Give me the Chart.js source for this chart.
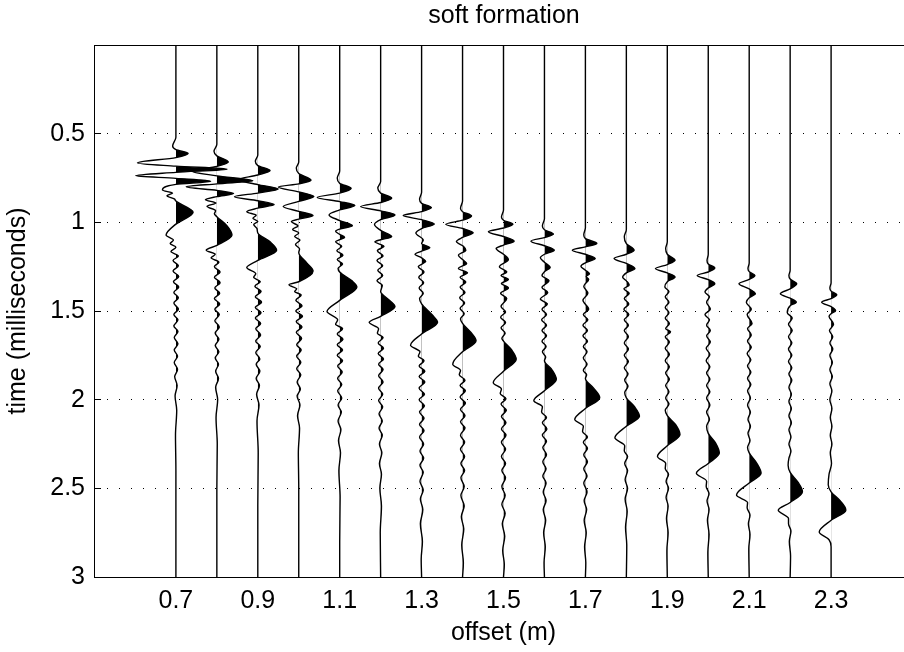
<!DOCTYPE html>
<html>
<head>
<meta charset="utf-8">
<script src="https://cdn.jsdelivr.net/npm/chart.js@4.4.1/dist/chart.umd.min.js"></script>
<style>
  html, body { margin: 0; padding: 0; background: #fff; }
  #wrap { width: 904px; height: 652px; overflow: hidden; }
  canvas { display: block; }
</style>
</head>
<body>
<div id="wrap"><canvas id="chart" width="1008" height="652"></canvas></div>
<script>
const title = 'soft formation'
const xLabel = 'offset (m)'
const yLabel = 'time (milliseconds)'

const offsets = [0.7, 0.8, 0.9, 1.0, 1.1, 1.2, 1.3, 1.4, 1.5, 1.6, 1.7, 1.8, 1.9, 2.0, 2.1, 2.2, 2.3]
const xTicks = [0.7, 0.9, 1.1, 1.3, 1.5, 1.7, 1.9, 2.1, 2.3]
const yTicks = [0.5, 1, 1.5, 2, 2.5, 3]
const gain = 0.1 // one amplitude unit = one trace spacing (m)

// [time (ms), amplitude]
const tr07 = [[0,0],[0.52,0],[0.57,-0.08],[0.59,0],[0.611,0.30],[0.635,0],[0.665,-0.94],[0.683,0],[0.700,1.25],[0.718,0],[0.737,-0.98],[0.752,0],[0.768,0.85],[0.786,0],[0.818,-0.33],[0.835,-0.08],[0.85,-0.22],[0.868,-0.04],[0.88,0],[0.943,0.42],[1.01,0],[1.072,-0.24],[1.10,-0.06],[1.12,-0.14],[1.14,0],[1.165,-0.12],[1.19,0.06],[1.215,-0.07],[1.245,0.06],[1.275,-0.07],[1.305,0.07],[1.335,-0.06],[1.365,0.07],[1.395,-0.05],[1.425,0.06],[1.455,-0.05],[1.49,0.06],[1.52,-0.05],[1.55,0.05],[1.585,-0.05],[1.615,0.05],[1.65,-0.04],[1.685,0.05],[1.72,-0.04],[1.755,0.04],[1.79,-0.04],[1.83,0.04],[1.87,-0.03],[1.92,0.03],[1.98,-0.02],[2.06,0.02],[2.2,-0.01],[2.4,0],[3,0]]
const tr08 = [[0,0],[0.56,0],[0.599,-0.07],[0.625,0],[0.66,0.28],[0.685,0],[0.712,-0.6],[0.738,0],[0.766,0.88],[0.783,0],[0.80,-0.75],[0.82,0],[0.838,0.41],[0.855,0],[0.873,-0.28],[0.891,-0.02],[0.909,-0.24],[0.935,-0.03],[0.952,-0.06],[0.968,0],[1.02,0.25],[1.072,0.37],[1.13,0],[1.157,-0.26],[1.18,-0.04],[1.20,-0.14],[1.225,0.05],[1.25,-0.06],[1.28,0.08],[1.31,-0.06],[1.34,0.08],[1.37,-0.05],[1.40,0.07],[1.43,-0.06],[1.46,0.07],[1.49,-0.05],[1.52,0.06],[1.555,-0.05],[1.59,0.06],[1.625,-0.04],[1.66,0.05],[1.695,-0.04],[1.73,0.05],[1.765,-0.04],[1.80,0.04],[1.84,-0.03],[1.88,0.04],[1.93,-0.03],[2.0,0.02],[2.1,-0.02],[2.25,0.01],[2.5,0],[3,0]]
const tr09 = [[0,0],[0.62,0],[0.656,-0.06],[0.68,0],[0.708,0.30],[0.733,0],[0.76,-0.5],[0.787,0],[0.812,0.50],[0.835,0],[0.856,-0.57],[0.878,0],[0.90,0.40],[0.92,0],[0.94,-0.27],[0.96,-0.04],[0.977,-0.12],[0.995,0],[1.012,-0.1],[1.035,-0.02],[1.06,0],[1.11,0.3],[1.157,0.46],[1.215,0],[1.255,-0.27],[1.29,-0.05],[1.31,-0.10],[1.335,0.06],[1.36,-0.07],[1.39,0.08],[1.42,-0.06],[1.45,0.09],[1.48,-0.06],[1.51,0.08],[1.54,-0.06],[1.57,0.07],[1.60,-0.05],[1.635,0.07],[1.67,-0.05],[1.70,0.06],[1.735,-0.05],[1.77,0.05],[1.80,-0.04],[1.84,0.05],[1.88,-0.04],[1.92,0.04],[1.97,-0.03],[2.03,0.03],[2.12,-0.02],[2.3,0.01],[2.6,0],[3,0]]
const tr10 = [[0,0],[0.66,0],[0.694,-0.06],[0.725,0],[0.762,0.30],[0.783,0],[0.801,-0.50],[0.828,0],[0.854,0.37],[0.882,0],[0.911,-0.38],[0.938,0],[0.962,0.35],[0.982,0],[0.996,-0.18],[1.02,-0.02],[1.04,-0.15],[1.06,0],[1.08,-0.1],[1.10,0.03],[1.125,-0.08],[1.15,0.02],[1.17,0],[1.23,0.2],[1.275,0.35],[1.335,0],[1.352,-0.24],[1.375,-0.05],[1.39,-0.1],[1.41,0.06],[1.44,-0.07],[1.47,0.08],[1.50,-0.07],[1.53,0.09],[1.56,-0.06],[1.59,0.08],[1.62,-0.06],[1.655,0.07],[1.69,-0.05],[1.72,0.06],[1.755,-0.05],[1.79,0.05],[1.825,-0.05],[1.86,0.05],[1.90,-0.04],[1.94,0.04],[1.98,-0.04],[2.03,0.03],[2.09,-0.03],[2.16,0.02],[2.3,-0.01],[2.5,0],[3,0]]
const tr11 = [[0,0],[0.71,0],[0.75,-0.06],[0.78,0],[0.809,0.28],[0.835,0],[0.86,-0.55],[0.883,0],[0.905,0.37],[0.93,0],[0.958,-0.26],[0.99,0],[1.019,0.31],[1.038,0],[1.05,-0.10],[1.068,0],[1.085,0.12],[1.098,0],[1.11,-0.1],[1.135,0.05],[1.16,-0.07],[1.185,0.08],[1.21,-0.06],[1.235,0.07],[1.26,-0.04],[1.28,0],[1.33,0.3],[1.365,0.42],[1.44,0],[1.503,-0.31],[1.55,-0.05],[1.575,-0.1],[1.60,0.07],[1.63,-0.06],[1.66,0.08],[1.69,-0.06],[1.72,0.07],[1.75,-0.06],[1.78,0.07],[1.81,-0.05],[1.845,0.06],[1.88,-0.05],[1.915,0.05],[1.95,-0.05],[1.99,0.05],[2.03,-0.04],[2.07,0.04],[2.12,-0.04],[2.17,0.03],[2.23,-0.03],[2.3,0.02],[2.4,-0.02],[2.55,0.01],[2.8,0],[3,0]]
const tr12 = [[0,0],[0.77,0],[0.807,-0.07],[0.835,0],[0.864,0.27],[0.888,0],[0.911,-0.49],[0.935,0],[0.958,0.35],[0.985,0],[1.012,-0.15],[1.045,0],[1.081,0.27],[1.098,0],[1.11,-0.14],[1.135,0.08],[1.16,-0.08],[1.19,0.06],[1.215,-0.09],[1.245,0.05],[1.27,-0.07],[1.30,0.05],[1.33,-0.09],[1.355,0.04],[1.39,0],[1.44,0.22],[1.475,0.35],[1.53,0],[1.564,-0.28],[1.60,-0.05],[1.625,-0.08],[1.65,0.06],[1.68,-0.06],[1.71,0.07],[1.74,-0.06],[1.77,0.07],[1.80,-0.05],[1.83,0.06],[1.865,-0.05],[1.90,0.06],[1.935,-0.05],[1.97,0.05],[2.005,-0.05],[2.04,0.05],[2.08,-0.04],[2.12,0.04],[2.16,-0.04],[2.20,0.04],[2.25,-0.03],[2.30,0.03],[2.36,-0.03],[2.42,0.02],[2.5,-0.02],[2.6,0.02],[2.75,-0.01],[3,0]]
const tr13 = [[0,0],[0.83,0],[0.87,-0.05],[0.893,0],[0.917,0.24],[0.94,0],[0.962,-0.45],[0.985,0],[1.009,0.31],[1.035,0],[1.06,-0.14],[1.10,0.04],[1.12,0],[1.142,0.20],[1.162,0],[1.18,-0.16],[1.20,0],[1.22,0.10],[1.25,-0.08],[1.28,0.06],[1.31,-0.07],[1.34,0.05],[1.37,-0.06],[1.40,0.04],[1.43,-0.05],[1.46,0],[1.52,0.25],[1.564,0.39],[1.63,0],[1.693,-0.27],[1.73,-0.04],[1.755,-0.08],[1.78,0.06],[1.81,-0.06],[1.84,0.08],[1.87,-0.06],[1.90,0.08],[1.935,-0.06],[1.97,0.07],[2.0,-0.06],[2.035,0.07],[2.07,-0.05],[2.105,0.06],[2.14,-0.05],[2.175,0.06],[2.21,-0.05],[2.25,0.05],[2.29,-0.04],[2.33,0.05],[2.37,-0.04],[2.41,0.04],[2.46,-0.04],[2.51,0.04],[2.56,-0.03],[2.62,0.03],[2.7,-0.03],[2.8,0.02],[2.9,-0.01],[3,0]]
const tr14 = [[0,0],[0.88,0],[0.92,-0.05],[0.94,0],[0.964,0.22],[0.988,0],[1.011,-0.41],[1.035,0],[1.059,0.26],[1.085,0],[1.108,-0.15],[1.135,0.02],[1.157,0.08],[1.185,-0.10],[1.21,0],[1.232,0.10],[1.26,-0.10],[1.285,0.12],[1.31,-0.06],[1.337,0.08],[1.365,-0.06],[1.395,0.06],[1.425,-0.07],[1.455,0.05],[1.485,-0.06],[1.515,0.04],[1.545,-0.05],[1.57,0],[1.62,0.2],[1.668,0.33],[1.73,0],[1.80,-0.24],[1.835,-0.05],[1.86,-0.08],[1.89,0.06],[1.92,-0.06],[1.95,0.07],[1.985,-0.06],[2.02,0.07],[2.055,-0.05],[2.09,0.06],[2.125,-0.05],[2.16,0.06],[2.2,-0.05],[2.24,0.05],[2.28,-0.05],[2.32,0.05],[2.36,-0.04],[2.40,0.05],[2.44,-0.04],[2.49,0.04],[2.54,-0.04],[2.6,0.04],[2.66,-0.03],[2.73,0.03],[2.82,-0.02],[2.92,0.02],[3,0]]
const tr15 = [[0,0],[0.93,0],[0.97,-0.05],[0.988,0],[1.011,0.23],[1.032,0],[1.053,-0.37],[1.08,0],[1.106,0.26],[1.128,0],[1.148,-0.18],[1.18,0],[1.21,0.12],[1.251,-0.10],[1.28,0.08],[1.30,-0.06],[1.322,0.12],[1.345,-0.05],[1.37,0.12],[1.40,-0.07],[1.43,0.08],[1.475,-0.06],[1.505,0.05],[1.535,-0.07],[1.565,0.05],[1.595,-0.06],[1.625,0.04],[1.655,-0.04],[1.67,0],[1.72,0.2],[1.772,0.31],[1.84,0],[1.904,-0.25],[1.94,-0.05],[1.965,-0.08],[1.995,0.06],[2.025,-0.06],[2.06,0.07],[2.095,-0.05],[2.13,0.06],[2.165,-0.05],[2.2,0.06],[2.24,-0.05],[2.28,0.05],[2.32,-0.05],[2.36,0.05],[2.40,-0.04],[2.44,0.05],[2.49,-0.04],[2.54,0.04],[2.59,-0.04],[2.64,0.04],[2.7,-0.03],[2.77,0.03],[2.85,-0.02],[2.93,0.02],[3,0]]
const tr16 = [[0,0],[0.98,0],[1.02,-0.05],[1.042,0],[1.066,0.22],[1.086,0],[1.106,-0.33],[1.132,0],[1.157,0.24],[1.18,0],[1.20,-0.10],[1.225,0],[1.255,0.14],[1.278,0],[1.30,-0.06],[1.33,0.11],[1.367,-0.06],[1.395,0.08],[1.433,-0.1],[1.46,0.07],[1.49,-0.06],[1.52,0.05],[1.55,-0.07],[1.58,0.05],[1.61,-0.06],[1.64,0.05],[1.67,-0.06],[1.70,0.04],[1.73,-0.05],[1.76,0.03],[1.78,0],[1.83,0.18],[1.885,0.29],[1.95,0],[2.006,-0.26],[2.04,-0.05],[2.07,-0.07],[2.10,0.05],[2.13,-0.05],[2.165,0.06],[2.2,-0.05],[2.235,0.05],[2.27,-0.04],[2.31,0.05],[2.35,-0.04],[2.39,0.04],[2.43,-0.04],[2.47,0.04],[2.52,-0.03],[2.57,0.04],[2.62,-0.03],[2.68,0.03],[2.75,-0.02],[2.83,0.02],[2.92,-0.01],[3,0]]
const tr17 = [[0,0],[1.03,0],[1.07,-0.04],[1.092,0],[1.119,0.28],[1.138,0],[1.157,-0.32],[1.18,0],[1.204,0.24],[1.228,0],[1.248,-0.11],[1.27,0],[1.29,0.10],[1.305,0.02],[1.322,0.08],[1.36,-0.04],[1.40,0.06],[1.44,-0.06],[1.49,0.08],[1.52,-0.05],[1.55,0.06],[1.58,-0.06],[1.61,0.05],[1.64,-0.06],[1.67,0.05],[1.70,-0.05],[1.73,0.04],[1.765,-0.05],[1.80,0.04],[1.835,-0.05],[1.86,0.03],[1.88,0],[1.935,0.2],[1.989,0.35],[2.05,0],[2.112,-0.26],[2.15,-0.05],[2.18,-0.07],[2.21,0.05],[2.24,-0.05],[2.275,0.05],[2.31,-0.04],[2.35,0.05],[2.39,-0.04],[2.43,0.04],[2.47,-0.04],[2.52,0.04],[2.57,-0.03],[2.62,0.03],[2.68,-0.03],[2.75,0.02],[2.83,-0.02],[2.92,0.01],[3,0]]
const tr18 = [[0,0],[1.04,0],[1.081,-0.05],[1.12,0],[1.157,0.19],[1.18,0],[1.204,-0.30],[1.232,0],[1.261,0.21],[1.285,0],[1.31,-0.09],[1.33,0],[1.353,0.07],[1.375,-0.06],[1.40,0.07],[1.43,-0.05],[1.46,0.06],[1.49,-0.06],[1.52,0.06],[1.55,-0.05],[1.58,0.05],[1.61,-0.05],[1.645,0.05],[1.68,-0.05],[1.715,0.05],[1.75,-0.05],[1.785,0.05],[1.82,-0.05],[1.855,0.04],[1.89,-0.04],[1.925,0.04],[1.96,-0.04],[1.99,0],[2.04,0.2],[2.094,0.32],[2.15,0],[2.215,-0.28],[2.26,-0.04],[2.29,-0.05],[2.32,0.03],[2.36,-0.04],[2.40,0.03],[2.45,-0.03],[2.5,0.03],[2.56,-0.03],[2.63,0.02],[2.72,-0.02],[2.82,0.01],[3,0]]
const tr19 = [[0,0],[1.11,0],[1.148,-0.04],[1.18,0],[1.214,0.19],[1.238,0],[1.261,-0.29],[1.285,0],[1.308,0.19],[1.335,0],[1.365,-0.06],[1.39,0.04],[1.42,-0.05],[1.45,0.04],[1.48,-0.05],[1.51,0.04],[1.54,-0.05],[1.57,0.05],[1.60,-0.04],[1.617,0.08],[1.645,-0.05],[1.675,0.05],[1.71,-0.05],[1.745,0.05],[1.78,-0.05],[1.815,0.05],[1.85,-0.04],[1.885,0.05],[1.92,-0.04],[1.955,0.04],[1.99,-0.04],[2.025,0.04],[2.06,-0.05],[2.09,0],[2.14,0.2],[2.197,0.31],[2.26,0],[2.32,-0.24],[2.36,-0.04],[2.39,-0.05],[2.42,0.03],[2.46,-0.03],[2.5,0.03],[2.55,-0.03],[2.6,0.02],[2.67,-0.02],[2.75,0.02],[2.85,-0.01],[3,0]]
const tr20 = [[0,0],[1.18,0],[1.215,-0.03],[1.235,0],[1.258,0.16],[1.28,0],[1.30,-0.27],[1.323,0],[1.346,0.16],[1.37,0],[1.393,-0.08],[1.42,0.03],[1.45,-0.04],[1.49,0.05],[1.52,-0.08],[1.55,0.03],[1.58,-0.04],[1.61,0.05],[1.64,-0.04],[1.675,0.05],[1.71,-0.05],[1.745,0.04],[1.78,-0.05],[1.815,0.04],[1.85,-0.04],[1.885,0.04],[1.92,-0.04],[1.955,0.04],[1.99,-0.04],[2.03,0.04],[2.07,-0.04],[2.11,0.03],[2.15,-0.04],[2.19,0],[2.245,0.18],[2.301,0.27],[2.36,0],[2.415,-0.29],[2.46,-0.04],[2.49,-0.05],[2.53,0.02],[2.57,-0.03],[2.62,0.02],[2.68,-0.02],[2.76,0.02],[2.86,-0.01],[3,0]]
const tr21 = [[0,0],[1.23,0],[1.26,-0.03],[1.278,0],[1.30,0.14],[1.322,0],[1.346,-0.25],[1.375,0],[1.403,0.15],[1.425,0],[1.45,-0.07],[1.49,0.05],[1.52,-0.05],[1.57,0.07],[1.60,-0.04],[1.635,0.05],[1.67,-0.04],[1.705,0.05],[1.74,-0.05],[1.775,0.04],[1.81,-0.04],[1.845,0.04],[1.88,-0.04],[1.915,0.04],[1.95,-0.04],[1.99,0.03],[2.03,-0.04],[2.07,0.03],[2.11,-0.03],[2.15,0.03],[2.19,-0.03],[2.23,0.02],[2.27,-0.04],[2.30,0],[2.36,0.19],[2.415,0.29],[2.47,0],[2.538,-0.31],[2.58,-0.04],[2.61,-0.05],[2.65,0.02],[2.7,-0.02],[2.76,0.02],[2.84,-0.01],[3,0]]
const tr22 = [[0,0],[1.27,0],[1.30,-0.03],[1.32,0],[1.346,0.16],[1.375,0],[1.403,-0.24],[1.428,0],[1.45,0.15],[1.47,0],[1.51,-0.07],[1.54,0.05],[1.575,-0.04],[1.61,0.05],[1.645,-0.04],[1.68,0.04],[1.715,-0.04],[1.75,0.04],[1.785,-0.04],[1.82,0.04],[1.855,-0.03],[1.89,0.04],[1.93,-0.03],[1.97,0.03],[2.01,-0.03],[2.05,0.03],[2.09,-0.03],[2.13,0.03],[2.17,-0.03],[2.21,0.02],[2.25,-0.03],[2.29,0.02],[2.33,-0.03],[2.37,-0.05],[2.41,0],[2.465,0.19],[2.519,0.30],[2.58,0],[2.623,-0.29],[2.67,-0.04],[2.70,-0.04],[2.74,0.02],[2.8,-0.02],[2.88,0.01],[3,0]]
const tr23 = [[0,0],[1.34,0],[1.37,-0.03],[1.388,0],[1.409,0.14],[1.43,0],[1.45,-0.23],[1.475,0],[1.498,0.11],[1.515,0],[1.53,-0.05],[1.575,0.06],[1.61,-0.04],[1.645,0.04],[1.68,-0.03],[1.715,0.04],[1.75,-0.03],[1.79,0.03],[1.83,-0.03],[1.87,0.03],[1.91,-0.03],[1.95,0.02],[2.0,-0.03],[2.05,0.02],[2.1,-0.02],[2.15,0.02],[2.2,-0.02],[2.25,0.02],[2.3,-0.02],[2.36,0.01],[2.42,-0.05],[2.48,-0.07],[2.52,0],[2.57,0.22],[2.623,0.36],[2.68,0],[2.746,-0.29],[2.79,-0.05],[2.83,0],[3,0]]

const traces = [tr07, tr08, tr09, tr10, tr11, tr12, tr13, tr14, tr15, tr16, tr17, tr18, tr19, tr20, tr21, tr22, tr23]

const font = 'Liberation Sans, Arial, Helvetica, sans-serif'
const size = 25
Chart.defaults.color = '#000'
Chart.defaults.font.family = font

// black fill of the positive half of each wiggle, using the line's own path
const wiggleFill = {
  id: 'wiggleFill',
  beforeDatasetDraw(chart, args) {
    const ds = chart.data.datasets[args.index]
    const line = args.meta.dataset
    const pts = args.meta.data
    if (!line || !pts.length) return
    const {ctx, chartArea: area} = chart
    const base = chart.scales.x.getPixelForValue(ds.base)
    line.updateControlPoints(area, 'y')
    ctx.save()
    ctx.beginPath()
    ctx.rect(base, area.top, area.right - base, area.bottom - area.top)
    ctx.clip()
    ctx.beginPath()
    line.path(ctx)
    ctx.lineTo(base, pts[pts.length - 1].y)
    ctx.lineTo(base, pts[0].y)
    ctx.closePath()
    ctx.fillStyle = '#000'
    ctx.fill()
    ctx.restore()
  }
}

const frame = {
  id: 'frame',
  afterDraw(chart) {
    const {ctx, chartArea: a} = chart
    ctx.save()
    ctx.strokeStyle = '#000'
    ctx.lineWidth = 1
    ctx.strokeRect(Math.round(a.left) + 0.5, Math.round(a.top) + 0.5, Math.round(a.right - a.left), Math.round(a.bottom - a.top))
    ctx.restore()
  }
}

new Chart(document.getElementById('chart'), {
  type: 'line',
  data: {
    datasets: traces.map((tr, i) => ({
      base: offsets[i],
      data: tr.map(([t, a]) => ({x: offsets[i] + a * gain, y: t})),
      borderColor: '#000',
      borderWidth: 1.4,
      pointRadius: 0,
      fill: false,
      cubicInterpolationMode: 'monotone'
    }))
  },
  options: {
    indexAxis: 'y',
    animation: false,
    responsive: false,
    events: [],
    plugins: {
      legend: {display: false},
      tooltip: {enabled: false},
      title: {
        display: true,
        text: title,
        color: '#000',
        font: {size: size, weight: 'normal'},
        padding: {top: 1, bottom: 14}
      }
    },
    scales: {
      x: {
        type: 'linear',
        position: 'bottom',
        min: 0.5,
        max: 2.5,
        afterBuildTicks: s => { s.ticks = xTicks.map(v => ({value: v})) },
        afterFit: s => { s.height = 75 },
        grid: {drawOnChartArea: false, drawTicks: false},
        border: {display: true, color: '#000', width: 1},
        ticks: {autoSkip: false, maxRotation: 0, padding: 9, font: {size: size}, callback: v => String(v)},
        title: {display: true, text: xLabel, font: {size: size}, padding: {top: 0, bottom: 4}}
      },
      y: {
        type: 'linear',
        position: 'left',
        reverse: true,
        min: 0,
        max: 3,
        afterBuildTicks: s => { s.ticks = yTicks.map(v => ({value: v})) },
        afterFit: s => { s.width = 94 },
        grid: {color: '#000', lineWidth: 1, tickLength: -7, tickColor: '#000', tickWidth: 1},
        border: {display: true, color: '#000', width: 1, dash: [1, 11]},
        ticks: {autoSkip: false, padding: 16, font: {size: size}, callback: v => String(v)},
        title: {display: true, text: yLabel, font: {size: size}, padding: {top: 3, bottom: 0}}
      },
      yRight: {
        type: 'linear',
        position: 'right',
        reverse: true,
        min: 0,
        max: 3,
        afterFit: s => { s.width = 95 },
        grid: {display: false, drawTicks: false},
        border: {display: false},
        ticks: {display: false}
      }
    }
  },
  plugins: [wiggleFill, frame]
})
</script>
</body>
</html>
